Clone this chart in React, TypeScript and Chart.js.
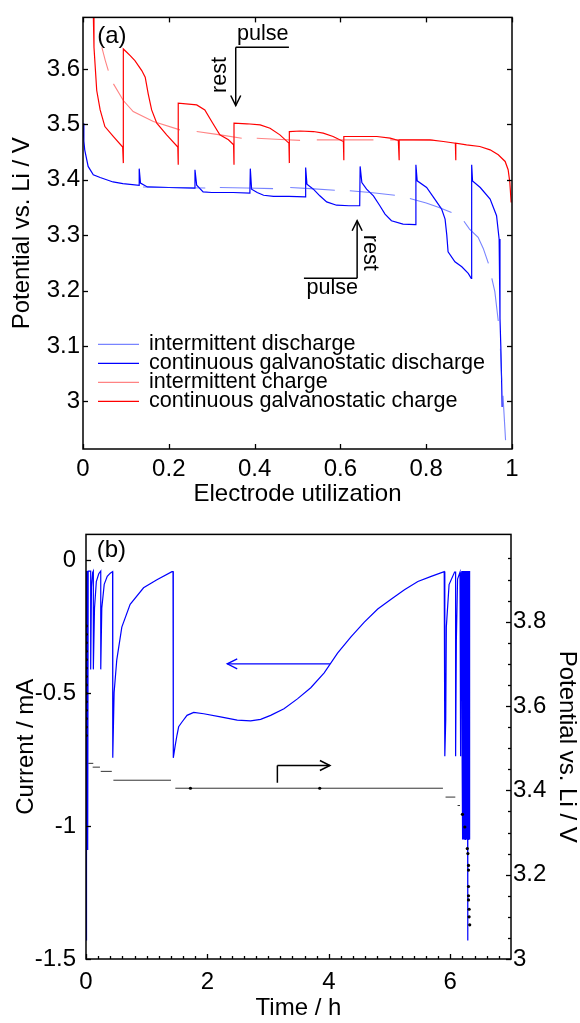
import React, { useEffect, useRef } from "react";
import { Chart, registerables } from "chart.js";
Chart.register(...registerables);

const FONT_FAMILY = '"Liberation Sans", Arial, Helvetica, sans-serif';
const BLUE = "#0000ff";
const BLUE_LIGHT = "rgba(30,50,255,0.6)";
const RED = "#ff0000";
const RED_LIGHT = "rgba(255,30,30,0.55)";
const GREY_BLACK = "#333333";

// ---------------- Panel (a): potential vs. electrode utilization ----------------
const utilTicks = [0, 0.2, 0.4, 0.6, 0.8, 1];
const potTicksA = [3, 3.1, 3.2, 3.3, 3.4, 3.5, 3.6];

// intermittent discharge (segmented, light blue)  [utilization, potential]
const dischargeIntermittent: [number, number | null][] = [
  [0.14, 3.387], [0.2, 3.386], [0.285, 3.385], [0.285, null],
  [0.319, 3.386], [0.38, 3.385], [0.443, 3.384], [0.443, null],
  [0.483, 3.386], [0.53, 3.384], [0.587, 3.381], [0.587, null],
  [0.622, 3.38], [0.67, 3.377], [0.727, 3.372], [0.727, null],
  [0.762, 3.366], [0.8, 3.358], [0.83, 3.35], [0.859, 3.341], [0.859, null],
  [0.888, 3.325], [0.901, 3.311], [0.921, 3.296], [0.933, 3.276], [0.945, 3.249], [0.945, null],
  [0.953, 3.222], [0.96, 3.198], [0.968, 3.145], [0.968, null],
  [0.973, 3.095], [0.976, 3.037], [0.976, null],
  [0.979, 3.01], [0.985, 2.93],
];

// continuous galvanostatic discharge (dark blue, with rest jumps)
const dischargeContinuous: [number, number][] = [
  [0, 3.502], [0.002, 3.47], [0.004, 3.454], [0.012, 3.424], [0.024, 3.409], [0.04, 3.404],
  [0.07, 3.396], [0.093, 3.393], [0.131, 3.39], [0.131, 3.42], [0.134, 3.394], [0.15, 3.387],
  [0.2, 3.386], [0.26, 3.385], [0.261, 3.418], [0.265, 3.39], [0.28, 3.378], [0.3, 3.377],
  [0.35, 3.377], [0.389, 3.376], [0.39, 3.42], [0.393, 3.383], [0.406, 3.377], [0.421, 3.372],
  [0.444, 3.37], [0.48, 3.37], [0.518, 3.369], [0.519, 3.422], [0.522, 3.392], [0.537, 3.383],
  [0.552, 3.371], [0.568, 3.36], [0.591, 3.354], [0.62, 3.353], [0.645, 3.353], [0.646, 3.424],
  [0.65, 3.395], [0.661, 3.383], [0.677, 3.371], [0.692, 3.353], [0.704, 3.338], [0.719, 3.326],
  [0.746, 3.32], [0.775, 3.319], [0.776, 3.427], [0.779, 3.398], [0.801, 3.386], [0.82, 3.365],
  [0.836, 3.347], [0.844, 3.329], [0.848, 3.3], [0.851, 3.27], [0.867, 3.252], [0.883, 3.243],
  [0.898, 3.231], [0.905, 3.222], [0.906, 3.427], [0.908, 3.398], [0.926, 3.386], [0.949, 3.365],
  [0.964, 3.335], [0.97, 3.293], [0.972, 3.228], [0.972, 3.15], [0.974, 3.097], [0.976, 3.031],
  [0.977, 2.99],
];

// intermittent charge (segmented, light red)
const chargeIntermittent: [number, number | null][] = [
  [0.044, 3.639], [0.052, 3.615], [0.059, 3.597], [0.059, null],
  [0.071, 3.573], [0.094, 3.543], [0.117, 3.523], [0.164, 3.505], [0.226, 3.49], [0.226, null],
  [0.265, 3.487], [0.32, 3.481], [0.37, 3.475], [0.37, null],
  [0.405, 3.475], [0.45, 3.473], [0.506, 3.471], [0.506, null],
  [0.545, 3.472], [0.61, 3.472], [0.677, 3.472], [0.677, null],
  [0.716, 3.472], [0.77, 3.472], [0.817, 3.471],
];

// continuous galvanostatic charge (red, with rest drops)
const chargeContinuous: [number, number][] = [
  [0.024, 3.7], [0.0256, 3.639], [0.032, 3.561], [0.04, 3.526], [0.051, 3.496], [0.071, 3.478],
  [0.0925, 3.459], [0.094, 3.43], [0.094, 3.636], [0.102, 3.63], [0.11, 3.624], [0.121, 3.615],
  [0.137, 3.597], [0.145, 3.585], [0.152, 3.555], [0.16, 3.526], [0.172, 3.502], [0.195, 3.481],
  [0.221, 3.459], [0.222, 3.427], [0.222, 3.538], [0.265, 3.535], [0.284, 3.526], [0.3, 3.505],
  [0.319, 3.481], [0.339, 3.472], [0.351, 3.463], [0.352, 3.427], [0.352, 3.502], [0.382, 3.501],
  [0.413, 3.499], [0.436, 3.493], [0.459, 3.481], [0.48, 3.466], [0.481, 3.43], [0.481, 3.487],
  [0.506, 3.488], [0.537, 3.487], [0.56, 3.484], [0.583, 3.478], [0.607, 3.469], [0.608, 3.435],
  [0.608, 3.478], [0.638, 3.478], [0.685, 3.478], [0.716, 3.475], [0.735, 3.471], [0.737, 3.435],
  [0.737, 3.472], [0.77, 3.472], [0.809, 3.472], [0.84, 3.469], [0.868, 3.466], [0.869, 3.435],
  [0.869, 3.466], [0.894, 3.463], [0.925, 3.46], [0.949, 3.454], [0.968, 3.445], [0.984, 3.433],
  [0.991, 3.418], [0.995, 3.395], [0.998, 3.359],
];

// ---------------- Panel (b): current and potential vs. time ----------------
const timeTicksB = [0, 2, 4, 6];
const currentTicks = [0, -0.5, -1, -1.5];
const potTicksB = [3, 3.2, 3.4, 3.6, 3.8];

// current trace [time / h, current / mA]
const currentTrace: [number, number][] = [
  [0, -0.04], [0.002, -1.43], [0.004, -0.04], [0.008, -1.09], [0.012, -0.04], [0.016, -1.09],
  [0.02, -0.04], [0.024, -1.09], [0.028, -0.04], [0.032, -1.09], [0.036, -0.04],
  [0.077, -0.04], [0.077, -0.41], [0.09, -0.1], [0.11, -0.045], [0.121, -0.04], [0.121, -0.41],
  [0.14, -0.18], [0.17, -0.08], [0.21, -0.05], [0.243, -0.04], [0.243, -0.41], [0.26, -0.18],
  [0.3, -0.09], [0.35, -0.06], [0.4, -0.048], [0.438, -0.042], [0.441, -0.743],
  [0.463, -0.497], [0.507, -0.374], [0.59, -0.251], [0.727, -0.165], [0.948, -0.103],
  [1.168, -0.073], [1.416, -0.042], [1.433, -0.042], [1.433, -0.743], [1.443, -0.743],
  [1.471, -0.694], [1.499, -0.657], [1.526, -0.626], [1.581, -0.608], [1.664, -0.583],
  [1.774, -0.572], [1.939, -0.577], [2.215, -0.589], [2.491, -0.601], [2.711, -0.604],
  [2.876, -0.598], [3.041, -0.583], [3.261, -0.558], [3.482, -0.521], [3.702, -0.479],
  [3.923, -0.423], [4.143, -0.349], [4.364, -0.288], [4.584, -0.232], [4.805, -0.183],
  [5.025, -0.146], [5.245, -0.11], [5.466, -0.079], [5.686, -0.06], [5.9, -0.042],
  [5.91, -0.042], [5.91, -0.737], [5.925, -0.6], [5.935, -0.25], [5.98, -0.091], [6.071, -0.044],
  [6.088, -0.044], [6.088, -0.737], [6.1, -0.3], [6.12, -0.07], [6.16, -0.044], [6.17, -0.044],
  [6.17, -0.737], [6.18, -0.1],
  [6.19, -0.04], [6.195, -0.74], [6.2, -0.04], [6.205, -1.05], [6.21, -0.04], [6.215, -1.05],
  [6.22, -0.04], [6.225, -1.05], [6.23, -0.04], [6.235, -1.05], [6.24, -0.04], [6.245, -1.05],
  [6.25, -0.04], [6.255, -1.05], [6.26, -0.04], [6.265, -1.05], [6.27, -0.04], [6.275, -1.05],
  [6.28, -0.04], [6.285, -1.05], [6.29, -1.43], [6.29, -0.04], [6.295, -1.05], [6.3, -0.04],
  [6.305, -1.05], [6.31, -0.04], [6.315, -1.05], [6.32, -0.04], [6.32, -1.05],
];

// potential during pulses [time / h, potential / V]
const potentialTrace: [number, number | null][] = [
  [0.038, 3.464], [0.12, 3.464], [0.12, null],
  [0.11, 3.455], [0.23, 3.455], [0.23, null],
  [0.243, 3.445], [0.425, 3.445], [0.425, null],
  [0.451, 3.424], [1.4, 3.424], [1.4, null],
  [1.471, 3.405], [5.879, 3.405], [5.879, null],
  [5.922, 3.384], [6.083, 3.384], [6.083, null],
  [6.12, 3.364], [6.16, 3.364],
];

const potentialDots: [number, number][] = [
  [0.003, 3.79], [0.003, 3.77], [0.003, 3.75], [0.003, 3.73], [0.003, 3.71], [0.003, 3.69],
  [0.003, 3.67], [0.003, 3.65], [0.003, 3.63], [0.003, 3.61], [0.003, 3.59], [0.003, 3.57],
  [0.003, 3.55], [0.003, 3.53],
  [1.72, 3.405], [3.85, 3.405],
  [6.2, 3.343], [6.24, 3.313], [6.28, 3.262], [6.29, 3.25], [6.3, 3.222], [6.3, 3.211],
  [6.3, 3.172], [6.3, 3.15], [6.3, 3.14], [6.31, 3.118], [6.31, 3.1], [6.32, 3.081],
];

// ------------------------------------------------------------------------
const toPts = (arr: [number, number | null][]) => arr.map(([x, y]) => ({ x, y }));
const font = (size: number, lineHeight = 1.2) => ({ family: FONT_FAMILY, size, lineHeight });
const fmt = (v: any) => String(Math.round(Number(v) * 100) / 100);
const noGrid = { display: false, drawTicks: false };

function arrowHead(ctx: CanvasRenderingContext2D, x: number, y: number, ang: number, len = 10, half = 5) {
  const c = Math.cos(ang), s = Math.sin(ang);
  ctx.beginPath();
  ctx.moveTo(x - len * c - half * s, y - len * s + half * c);
  ctx.lineTo(x, y);
  ctx.lineTo(x - len * c + half * s, y - len * s - half * c);
  ctx.stroke();
}

function seg(ctx: CanvasRenderingContext2D, x1: number, y1: number, x2: number, y2: number) {
  ctx.beginPath();
  ctx.moveTo(x1, y1);
  ctx.lineTo(x2, y2);
  ctx.stroke();
}

function rotText(ctx: CanvasRenderingContext2D, text: string, x: number, y: number, ang: number) {
  ctx.save();
  ctx.translate(x, y);
  ctx.rotate(ang);
  ctx.textAlign = "center";
  ctx.textBaseline = "middle";
  ctx.fillText(text, 0, 0);
  ctx.restore();
}

const framePlugin = (spec: {
  x: { id: string; major: number[]; minor: number[]; top: boolean };
  left: { id: string; major: number[]; minor: number[] };
  right: { id: string; major: number[]; minor: number[] };
}) => ({
  id: "frame",
  afterDatasetsDraw(chart: any) {
    const { ctx, chartArea, scales } = chart;
    const { left, right, top, bottom } = chartArea;
    ctx.save();
    ctx.strokeStyle = "#000";
    ctx.lineWidth = 1.3;
    const MAJ = 5, MIN = 3;
    const xs = scales[spec.x.id];
    for (const [list, L] of [[spec.x.major, MAJ], [spec.x.minor, MIN]] as [number[], number][]) {
      for (const v of list) {
        const p = Math.round(xs.getPixelForValue(v)) + 0.5;
        seg(ctx, p, bottom, p, bottom - L);
        if (spec.x.top) seg(ctx, p, top, p, top + L);
      }
    }
    const ls = scales[spec.left.id];
    for (const [list, L] of [[spec.left.major, MAJ], [spec.left.minor, MIN]] as [number[], number][]) {
      for (const v of list) {
        const p = Math.round(ls.getPixelForValue(v)) + 0.5;
        seg(ctx, left, p, left + L, p);
      }
    }
    const rs = scales[spec.right.id];
    for (const [list, L] of [[spec.right.major, MAJ], [spec.right.minor, MIN]] as [number[], number][]) {
      for (const v of list) {
        const p = Math.round(rs.getPixelForValue(v)) + 0.5;
        seg(ctx, right, p, right - L, p);
      }
    }
    ctx.lineWidth = 1.5;
    ctx.strokeRect(left, top, right - left, bottom - top);
    ctx.restore();
  },
});

const annotationsA = {
  id: "annotA",
  afterDatasetsDraw(chart: any) {
    const { ctx, chartArea, scales } = chart;
    const X = (v: number) => scales.x.getPixelForValue(v);
    const Y = (v: number) => scales.y.getPixelForValue(v);
    ctx.save();
    ctx.strokeStyle = "#000";
    ctx.fillStyle = "#000";
    ctx.lineWidth = 1.5;
    // panel label
    ctx.font = `24px ${FONT_FAMILY}`;
    ctx.textBaseline = "middle";
    ctx.textAlign = "left";
    ctx.fillText("(a)", X(0.033), Y(3.659));
    // upper annotation: pulse / rest
    ctx.font = `21.6px ${FONT_FAMILY}`;
    seg(ctx, X(0.356), Y(3.639), X(0.48), Y(3.639));
    seg(ctx, X(0.356), Y(3.639), X(0.356), Y(3.534));
    arrowHead(ctx, X(0.356), Y(3.534), Math.PI / 2);
    ctx.textBaseline = "alphabetic";
    ctx.fillText("pulse", X(0.359), Y(3.653));
    rotText(ctx, "rest", X(0.319), Y(3.589), -Math.PI / 2);
    // lower annotation: pulse / rest
    seg(ctx, X(0.515), Y(3.222), X(0.639), Y(3.222));
    seg(ctx, X(0.639), Y(3.222), X(0.639), Y(3.326));
    arrowHead(ctx, X(0.639), Y(3.326), -Math.PI / 2);
    ctx.textAlign = "left";
    ctx.textBaseline = "alphabetic";
    ctx.fillText("pulse", X(0.521), Y(3.193));
    rotText(ctx, "rest", X(0.669), Y(3.268), Math.PI / 2);

    // legend
    const ds = chart.data.datasets;
    const lx0 = chartArea.left + 15;
    const lx1 = chartArea.left + 56;
    const tx = chartArea.left + 66;
    let ly = chartArea.top + 327;
    ctx.textAlign = "left";
    ctx.textBaseline = "middle";
    for (const d of ds) {
      ctx.strokeStyle = d.borderColor;
      ctx.lineWidth = 1.2;
      seg(ctx, lx0, ly, lx1, ly);
      ctx.fillStyle = "#000";
      ctx.fillText(d.label, tx, ly);
      ly += 19;
    }
    ctx.restore();
  },
};

const annotationsB = {
  id: "annotB",
  afterDatasetsDraw(chart: any) {
    const { ctx, scales } = chart;
    const X = (v: number) => scales.x.getPixelForValue(v);
    const YI = (v: number) => scales.y.getPixelForValue(v);
    const YV = (v: number) => scales.y2.getPixelForValue(v);
    ctx.save();
    ctx.fillStyle = "#000";
    ctx.font = `24px ${FONT_FAMILY}`;
    ctx.textAlign = "left";
    ctx.textBaseline = "middle";
    ctx.fillText("(b)", X(0.177), YI(0.0387));
    // blue arrow pointing to current axis
    ctx.strokeStyle = BLUE;
    ctx.lineWidth = 1.3;
    seg(ctx, X(4.017), YI(-0.389), X(2.326), YI(-0.389));
    arrowHead(ctx, X(2.326), YI(-0.389), Math.PI);
    // black arrow pointing to potential axis
    ctx.strokeStyle = "#000";
    ctx.lineWidth = 1.5;
    seg(ctx, X(3.152), YV(3.418), X(3.152), YV(3.459));
    seg(ctx, X(3.152), YV(3.459), X(4.017), YV(3.459));
    arrowHead(ctx, X(4.017), YV(3.459), 0);
    ctx.restore();
  },
};

function configA(): any {
  const line = (data: any, color: string, label: string, w = 1.1) => ({
    label, data, borderColor: color, backgroundColor: color, borderWidth: w,
    pointRadius: 0, spanGaps: false, fill: false, tension: 0,
  });
  return {
    type: "line",
    data: {
      datasets: [
        line(toPts(dischargeIntermittent), BLUE_LIGHT, "intermittent discharge"),
        line(toPts(dischargeContinuous), BLUE, "continuous galvanostatic discharge", 1.2),
        line(toPts(chargeIntermittent), RED_LIGHT, "intermittent charge"),
        line(toPts(chargeContinuous), RED, "continuous galvanostatic charge", 1.2),
      ],
    },
    options: {
      responsive: false,
      animation: false,
      devicePixelRatio: 1,
      layout: { padding: { top: 13, right: 68, left: 0, bottom: 0 } },
      plugins: { legend: { display: false }, tooltip: { enabled: false } },
      scales: {
        x: {
          type: "linear", min: 0, max: 1,
          grid: noGrid, border: { display: false },
          afterBuildTicks: (s: any) => { s.ticks = utilTicks.map((v) => ({ value: v })); },
          afterFit: (s: any) => { s.height = 61; },
          ticks: { color: "#000", font: font(24), padding: 6, maxRotation: 0, autoSkip: false, callback: fmt },
          title: { display: true, text: "Electrode utilization", color: "#000", font: font(24), padding: { top: 0, bottom: 1 } },
        },
        y: {
          type: "linear", min: 2.914, max: 3.693,
          grid: noGrid, border: { display: false },
          afterBuildTicks: (s: any) => { s.ticks = potTicksA.map((v) => ({ value: v })); },
          afterFit: (s: any) => { s.width = 83; },
          ticks: { color: "#000", font: font(24), padding: 3, autoSkip: false, callback: fmt },
          title: { display: true, text: "Potential vs. Li / V", color: "#000", font: font(24), padding: { top: 8, bottom: 0 } },
        },
      },
    },
    plugins: [
      framePlugin({
        x: { id: "x", major: utilTicks, minor: [], top: true },
        left: { id: "y", major: potTicksA, minor: [] },
        right: { id: "y", major: potTicksA, minor: [] },
      }),
      annotationsA,
    ],
  };
}

function configB(): any {
  const xMinor: number[] = [];
  for (let i = 1; i < 35; i++) if (i % 10 !== 0) xMinor.push(i / 5);
  const vMinor: number[] = [];
  for (let i = 1; i < 20; i++) if (i % 4 !== 0) vMinor.push(3 + i / 20);
  return {
    type: "line",
    data: {
      datasets: [
        {
          label: "potential points", data: toPts(potentialDots), yAxisID: "y2",
          showLine: false, pointRadius: 1.6, pointBackgroundColor: "#000", pointBorderWidth: 0,
        },
        {
          label: "potential", data: toPts(potentialTrace), yAxisID: "y2",
          borderColor: GREY_BLACK, borderWidth: 1, pointRadius: 0, spanGaps: false, tension: 0,
        },
        {
          label: "current", data: toPts(currentTrace), yAxisID: "y",
          borderColor: BLUE, borderWidth: 1.2, pointRadius: 0, spanGaps: false, tension: 0,
        },
      ],
    },
    options: {
      responsive: false,
      animation: false,
      devicePixelRatio: 1,
      layout: { padding: { top: 16, right: 0, left: 0, bottom: 0 } },
      plugins: { legend: { display: false }, tooltip: { enabled: false } },
      scales: {
        x: {
          type: "linear", min: 0, max: 7,
          grid: noGrid, border: { display: false },
          afterBuildTicks: (s: any) => { s.ticks = timeTicksB.map((v) => ({ value: v })); },
          afterFit: (s: any) => { s.height = 64; },
          ticks: { color: "#000", font: font(24), padding: 9, maxRotation: 0, autoSkip: false, callback: fmt },
          title: { display: true, text: "Time / h", color: "#000", font: font(24), padding: { top: 0, bottom: 0 } },
        },
        y: {
          type: "linear", position: "left", min: -1.5, max: 0.098,
          grid: noGrid, border: { display: false },
          afterBuildTicks: (s: any) => { s.ticks = currentTicks.map((v) => ({ value: v })); },
          afterFit: (s: any) => { s.width = 86; },
          ticks: { color: "#000", font: font(24), padding: 10, autoSkip: false, callback: fmt },
          title: { display: true, text: "Current / mA", color: "#000", font: font(24), padding: { top: 12, bottom: 0 } },
        },
        y2: {
          type: "linear", position: "right", min: 3, max: 4.007,
          grid: noGrid, border: { display: false },
          afterBuildTicks: (s: any) => { s.ticks = potTicksB.map((v) => ({ value: v })); },
          afterFit: (s: any) => { s.width = 69; },
          ticks: { color: "#000", font: font(24), padding: 2, autoSkip: false, callback: fmt },
          title: { display: true, text: "Potential vs. Li / V", color: "#000", font: font(24, 1), padding: { top: 1, bottom: 0 } },
        },
      },
    },
    plugins: [
      framePlugin({
        x: { id: "x", major: timeTicksB, minor: xMinor, top: false },
        left: { id: "y", major: currentTicks, minor: [] },
        right: { id: "y2", major: potTicksB, minor: vMinor },
      }),
      annotationsB,
    ],
  };
}

export default function App() {
  const refA = useRef<HTMLCanvasElement>(null);
  const refB = useRef<HTMLCanvasElement>(null);
  useEffect(() => {
    const a = new Chart(refA.current as HTMLCanvasElement, configA());
    const b = new Chart(refB.current as HTMLCanvasElement, configB());
    return () => {
      a.destroy();
      b.destroy();
    };
  }, []);
  return (
    <div style={{ position: "absolute", left: 0, top: 0, width: 580, height: 1023, background: "#fff" }}>
      <canvas ref={refA} width={580} height={510} style={{ display: "block", width: 580, height: 510 }} />
      <canvas ref={refB} width={580} height={513} style={{ display: "block", width: 580, height: 513 }} />
    </div>
  );
}
